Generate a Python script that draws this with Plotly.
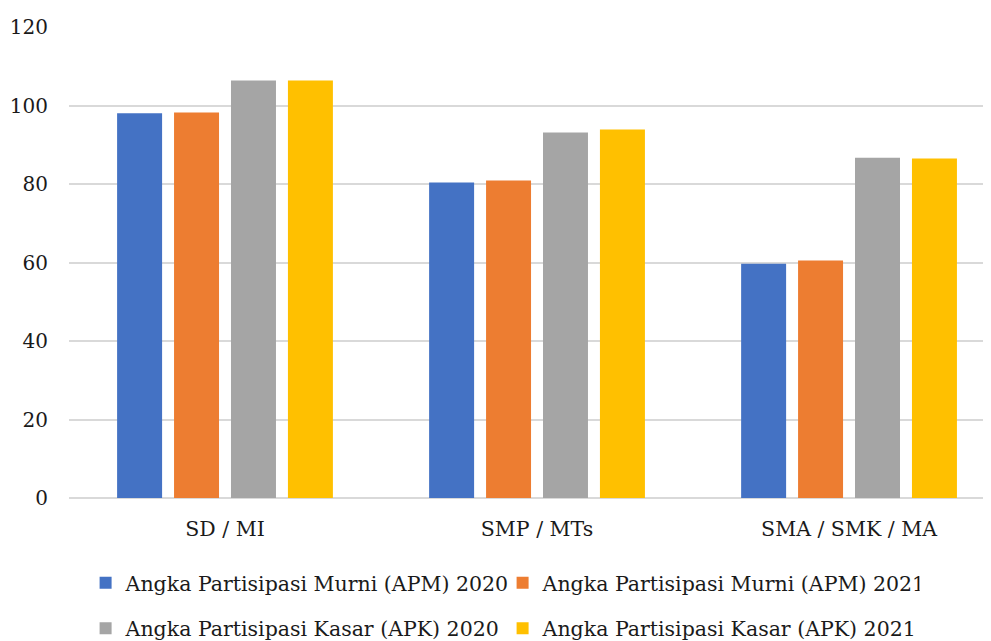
import plotly.graph_objects as go

# jenjang pendidikan
categories = ["SD / MI", "SMP / MTs", "SMA / SMK / MA"]

# nilai
apm_2020 = [98.0, 80.4, 59.7]
apm_2021 = [98.2, 80.9, 60.5]
apk_2020 = [106.4, 93.1, 86.7]
apk_2021 = [106.4, 93.9, 86.5]

names = [
    "Angka Partisipasi Murni (APM) 2020",
    "Angka Partisipasi Murni (APM) 2021",
    "Angka Partisipasi Kasar (APK) 2020",
    "Angka Partisipasi Kasar (APK) 2021",
]
colors = ["#4472C4", "#ED7D31", "#A5A5A5", "#FFC000"]
series = [apm_2020, apm_2021, apk_2020, apk_2021]
legends = ["legend", "legend", "legend2", "legend2"]

FONT = "DejaVu Serif"
TXT = "#1a1a1a"
SIZE = 20

fig = go.Figure()
for name, vals, col, lg in zip(names, series, colors, legends):
    fig.add_trace(go.Bar(x=categories, y=vals, name=name,
                         marker=dict(color=col, line=dict(width=0)),
                         legend=lg))

leg_common = dict(orientation="h", xanchor="left", yanchor="middle",
                  yref="container",
                  entrywidthmode="pixels", entrywidth=372,
                  font=dict(family=FONT, size=20.5, color=TXT),
                  bgcolor="rgba(0,0,0,0)", itemclick=False)

# the page body has an 8px margin, so the figure is 8px smaller
fig.update_layout(
    width=983, height=633,
    margin=dict(l=61, r=0, t=19, b=143, autoexpand=False),
    paper_bgcolor="white", plot_bgcolor="white",
    font=dict(family=FONT, size=SIZE, color=TXT),
    barmode="group", bargap=0.27, bargroupgap=0.21,
    legend=dict(x=0.018, y=0.0916, **leg_common),
    legend2=dict(x=0.018, y=0.02, **leg_common),
    showlegend=True,
)
fig.update_xaxes(range=[-0.5, 2.455], showgrid=False, showline=False,
                 ticks="", tickfont=dict(family=FONT, size=20.5, color=TXT),
                 ticklabelstandoff=16, automargin=False)
fig.update_yaxes(range=[0, 120], dtick=20, showgrid=True,
                 gridcolor="#d9d9d9", gridwidth=1.5,
                 zeroline=True, zerolinecolor="#d9d9d9", zerolinewidth=1.5,
                 showline=False, ticks="",
                 tickfont=dict(family=FONT, size=SIZE, color=TXT),
                 ticklabelstandoff=20, automargin=False)

fig.write_html("out.html")
